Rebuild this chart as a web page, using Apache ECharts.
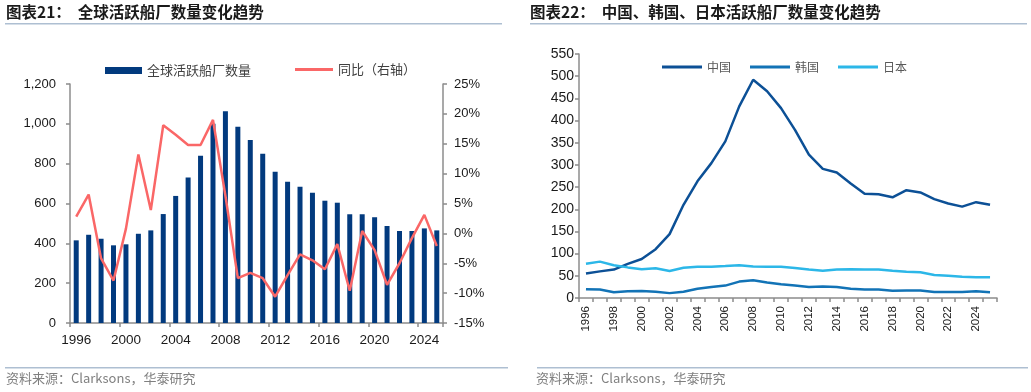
<!DOCTYPE html>
<html><head><meta charset="utf-8">
<script src="https://cdn.jsdelivr.net/npm/echarts@6/dist/echarts.min.js"></script>
<style>html,body{margin:0;padding:0;background:#fff}#c{width:1031px;height:392px}</style>
</head><body><div id="c"></div>
<script>
const years = ['1996','1997','1998','1999','2000','2001','2002','2003','2004','2005','2006','2007','2008','2009','2010','2011','2012','2013','2014','2015','2016','2017','2018','2019','2020','2021','2022','2023','2024','2025'];
const shipyards = [415,443,423,390,395,448,465,547,638,731,840,1000,1063,985,919,850,760,709,684,654,614,604,546,546,531,487,462,462,475,465];
const yoy = [2.8,6.5,-4.2,-7.9,0.8,13.2,3.9,18.1,16.5,14.8,14.8,19.0,6.3,-7.5,-6.6,-7.5,-10.6,-7.0,-3.5,-4.5,-6.0,-1.8,-9.6,0.4,-2.8,-8.6,-5.0,-0.8,3.1,-2.1];
const china = [55,60,64,77,88,110,144,210,263,304,353,432,492,466,428,379,323,291,283,258,235,234,227,243,238,223,213,206,216,210];
const korea = [20,19,13,15,16,14,11,14,21,25,28,37,40,35,31,28,25,26,25,21,19,19,16.5,17,17,13.5,13.5,13.5,15,13];
const japan = [77,82,74,69,65,67,61,68,70.5,70.5,72,74,71,70.5,70.5,67.6,64,61.5,64.5,65,64,64.5,61.5,59,58,52,50,48,46.5,46.5];
const leftTicks = {min:0, max:1200, interval:200};
const pctTicks = {min:-15, max:25, interval:5};
const rightTicks = {min:0, max:550, interval:50};

const chart = echarts.init(document.getElementById('c'));
const axisLine = {show:true, lineStyle:{color:'#8c8c8c', width:1.5}};
const axisTick = {show:true, length:4, lineStyle:{color:'#8c8c8c', width:1.5}};
const lblFont = 'Liberation Sans, Arial, sans-serif';
const cjk = '"Noto Sans CJK SC", sans-serif';
const sepColor = '#aebfd2';

chart.setOption({
  animation:false,
  textStyle:{fontFamily:lblFont},
  grid:[
    {left:70, right:588, top:84, bottom:69},
    {left:579, right:34, top:54, bottom:94}
  ],
  legend:[
    {left:100, top:59, itemWidth:37, itemHeight:7, itemGap:20, icon:'rect',
     data:['全球活跃船厂数量'], textStyle:{fontFamily:cjk, fontSize:13, color:'#404040'}},
    {left:290, top:58, itemWidth:38, itemHeight:3, icon:'rect',
     data:['同比（右轴）'], textStyle:{fontFamily:cjk, fontSize:13, color:'#404040'}},
    {left:657, top:56, itemWidth:40, itemHeight:3, itemGap:19, icon:'rect',
     data:['中国','韩国','日本'], textStyle:{fontFamily:cjk, fontSize:12, color:'#595959'}}
  ],
  xAxis:[
    {type:'category', gridIndex:0, data:years, boundaryGap:true,
     axisLine:axisLine, axisTick:Object.assign({interval:3}, axisTick),
     axisLabel:{interval:3, fontSize:13.5, color:'#1a1a1a', margin:10, fontFamily:lblFont}},
    {type:'category', gridIndex:1, data:years, boundaryGap:true,
     axisLine:axisLine, axisTick:Object.assign({interval:0}, axisTick),
     axisLabel:{interval:1, rotate:90, fontSize:11.5, color:'#1a1a1a', margin:8, fontFamily:lblFont}}
  ],
  yAxis:[
    {type:'value', gridIndex:0, min:leftTicks.min, max:leftTicks.max, interval:leftTicks.interval,
     splitLine:{show:false}, axisLine:axisLine, axisTick:axisTick,
     axisLabel:{fontSize:13, color:'#1a1a1a', margin:14, fontFamily:lblFont,
       formatter:v=>v.toLocaleString('en-US')}},
    {type:'value', gridIndex:0, position:'right', min:pctTicks.min, max:pctTicks.max, interval:pctTicks.interval,
     splitLine:{show:false}, axisLine:axisLine, axisTick:axisTick,
     axisLabel:{fontSize:13, color:'#1a1a1a', margin:11, fontFamily:lblFont, formatter:'{value}%'}},
    {type:'value', gridIndex:1, min:rightTicks.min, max:rightTicks.max, interval:rightTicks.interval,
     splitLine:{show:false}, axisLine:axisLine, axisTick:axisTick,
     axisLabel:{fontSize:14, color:'#1a1a1a', margin:5, fontFamily:lblFont}}
  ],
  series:[
    {name:'全球活跃船厂数量', type:'bar', xAxisIndex:0, yAxisIndex:0, data:shipyards,
     barWidth:5, itemStyle:{color:'#023a7e'}},
    {name:'同比（右轴）', type:'line', xAxisIndex:0, yAxisIndex:1, data:yoy,
     symbol:'none', lineStyle:{color:'#fa6767', width:2.5}, itemStyle:{color:'#fa6767'}},
    {name:'中国', type:'line', xAxisIndex:1, yAxisIndex:2, data:china,
     symbol:'none', lineStyle:{color:'#0c5096', width:2.5}, itemStyle:{color:'#0c5096'}},
    {name:'韩国', type:'line', xAxisIndex:1, yAxisIndex:2, data:korea,
     symbol:'none', lineStyle:{color:'#1273b6', width:2.5}, itemStyle:{color:'#1273b6'}},
    {name:'日本', type:'line', xAxisIndex:1, yAxisIndex:2, data:japan,
     symbol:'none', lineStyle:{color:'#2cb7e8', width:2.5}, itemStyle:{color:'#2cb7e8'}}
  ],
  graphic:[
    {type:'text', left:6, top:4, style:{text:'图表21：  全球活跃船厂数量变化趋势', font:'bold 15.5px "Noto Sans CJK SC", sans-serif', fill:'#1a1a1a'}},
    {type:'text', left:530, top:4, style:{text:'图表22：  中国、韩国、日本活跃船厂数量变化趋势', font:'bold 15.5px "Noto Sans CJK SC", sans-serif', fill:'#1a1a1a'}},
    {type:'rect', shape:{x:5, y:23, width:497, height:1.5}, style:{fill:sepColor}},
    {type:'rect', shape:{x:530, y:23, width:497, height:1.5}, style:{fill:sepColor}},
    {type:'rect', shape:{x:5, y:367, width:503, height:1.5}, style:{fill:sepColor}},
    {type:'rect', shape:{x:537, y:367, width:491, height:1.5}, style:{fill:sepColor}},
    {type:'text', left:6, top:372, style:{text:'资料来源：Clarksons，华泰研究', font:'13px "Noto Sans CJK SC", sans-serif', fill:'#808080'}},
    {type:'text', left:536, top:372, style:{text:'资料来源：Clarksons，华泰研究', font:'13px "Noto Sans CJK SC", sans-serif', fill:'#808080'}}
  ]
});
</script></body></html>
